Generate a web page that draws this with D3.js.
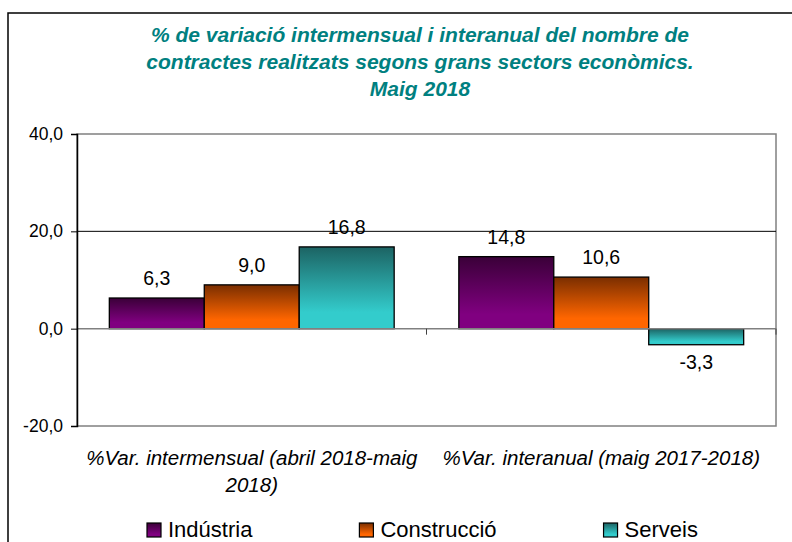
<!DOCTYPE html>
<meta charset="utf-8">
<style>
  body { margin: 0; background: #fff; }
  svg { display: block; font-family: "Liberation Sans", Arial, sans-serif; }
  .title { fill: #008080; font-size: 21px; font-weight: bold; font-style: italic; }
  .axis--y text { font-size: 17.5px; fill: #000; }
  .cat text { font-size: 20.5px; font-style: italic; fill: #000; }
  .label { font-size: 19.5px; fill: #000; }
  .legend text { font-size: 22px; fill: #000; }
</style>
<svg width="792" height="542"></svg>
<script src="https://cdn.jsdelivr.net/npm/d3@7"></script>
<script>
  // data
  var titleLines = ["% de variació intermensual i interanual del nombre de",
    "contractes realitzats segons grans sectors econòmics.",
    "Maig 2018"];
  var categories = ["intermensual", "interanual"];
  var categoryLabels = [["%Var. intermensual (abril 2018-maig", "2018)"],
    ["%Var. interanual (maig 2017-2018)"]];
  var sectors = ["Indústria", "Construcció", "Serveis"];
  var industria = [6.3, 14.8];
  var construccio = [9.0, 10.6];
  var serveis = [16.8, -3.3];
  var yTicks = [-20, 0, 20, 40];

  var colors = {
    "Indústria": ["#3a0038", "#800080"],
    "Construcció": ["#7a2e00", "#ff6600"],
    "Serveis": ["#1c6363", "#33cccc"]
  };

  var series = [industria, construccio, serveis];
  var rows = [];
  categories.forEach(function(c, i) {
    sectors.forEach(function(s, j) {
      rows.push({ cat: c, sector: s, value: series[j][i] });
    });
  });

  var svg = d3.select("svg");
  // catalan decimal comma, plain hyphen for negatives
  var fmt = function(v) { return v.toFixed(1).replace(".", ","); };

  // gradients
  var defs = svg.append("defs");
  sectors.forEach(function(s, i) {
    var gr = defs.append("linearGradient")
      .attr("id", "grad" + i)
      .attr("x1", 0).attr("y1", 0).attr("x2", 0).attr("y2", 1);
    gr.append("stop").attr("offset", "0%").attr("stop-color", colors[s][0]);
    gr.append("stop").attr("offset", "80%").attr("stop-color", colors[s][1]);
    gr.append("stop").attr("offset", "100%").attr("stop-color", colors[s][1]);
  });

  // outer frame
  svg.append("rect")
    .attr("x", 8).attr("y", 13)
    .attr("width", 800).attr("height", 560)
    .attr("fill", "#fff")
    .attr("stroke", "#000")
    .attr("stroke-width", 1.5);

  svg.append("g").selectAll("text")
    .data(titleLines)
    .enter().append("text")
    .attr("class", "title")
    .attr("x", 420)
    .attr("y", function(d, i) { return 42 + i * 27; })
    .attr("text-anchor", "middle")
    .text(function(d) { return d; });

  var plotLeft = 77, plotRight = 776, plotTop = 134, plotBottom = 426;

  var y = d3.scaleLinear()
    .domain([-20, 40])
    .range([plotBottom, plotTop]);

  var x0 = d3.scaleBand()
    .domain(categories)
    .range([plotLeft, plotRight])
    .paddingInner(0.185)
    .paddingOuter(0.0925);

  var x1 = d3.scaleBand()
    .domain(sectors)
    .range([0, x0.bandwidth()]);

  // plot area
  svg.append("rect")
    .attr("x", plotLeft).attr("y", plotTop)
    .attr("width", plotRight - plotLeft).attr("height", plotBottom - plotTop)
    .attr("fill", "#fff")
    .attr("stroke", "#808080")
    .attr("stroke-width", 1.5);

  // gridlines
  svg.append("g").selectAll("line")
    .data(yTicks.filter(function(t) { return t > 0 && t < 40; }))
    .enter().append("line")
    .attr("x1", plotLeft).attr("x2", plotRight)
    .attr("y1", function(d) { return y(d); })
    .attr("y2", function(d) { return y(d); })
    .attr("stroke", "#000")
    .attr("stroke-width", 1);

  // bars
  svg.append("g").selectAll("rect")
    .data(rows)
    .enter().append("rect")
    .attr("x", function(d) { return x0(d.cat) + x1(d.sector); })
    .attr("y", function(d) { return y(Math.max(0, d.value)); })
    .attr("width", x1.bandwidth())
    .attr("height", function(d) { return Math.abs(y(d.value) - y(0)); })
    .attr("fill", function(d) { return "url(#grad" + sectors.indexOf(d.sector) + ")"; })
    .attr("stroke", "#000")
    .attr("stroke-width", 1.3);

  // category axis at zero
  var xAxisG = svg.append("g");
  xAxisG.append("line")
    .attr("x1", plotLeft).attr("x2", plotRight)
    .attr("y1", y(0)).attr("y2", y(0))
    .attr("stroke", "#808080").attr("stroke-width", 1.5);
  xAxisG.selectAll(".sep")
    .data([categories[1]])
    .enter().append("line")
    .attr("x1", function(d) { return x0(d) - x0.step() * x0.paddingInner() / 2; })
    .attr("x2", function(d) { return x0(d) - x0.step() * x0.paddingInner() / 2; })
    .attr("y1", y(0)).attr("y2", y(0) + 6)
    .attr("stroke", "#404040").attr("stroke-width", 1);
  xAxisG.append("line")
    .attr("x1", plotRight).attr("x2", plotRight)
    .attr("y1", y(0)).attr("y2", y(0) + 6)
    .attr("stroke", "#404040").attr("stroke-width", 1);

  // y axis
  var yAxis = svg.append("g")
    .attr("class", "axis axis--y")
    .attr("transform", "translate(" + plotLeft + ",0)")
    .call(d3.axisLeft(y).tickValues(yTicks).tickSize(6).tickPadding(8).tickFormat(fmt));
  yAxis.attr("font-family", null).attr("font-size", null);
  yAxis.select(".domain").attr("stroke", "#000").attr("stroke-width", 1.5);
  yAxis.selectAll(".tick line").attr("stroke", "#000");

  // data labels
  svg.append("g").selectAll("text")
    .data(rows)
    .enter().append("text")
    .attr("class", "label")
    .attr("text-anchor", "middle")
    .attr("x", function(d) { return x0(d.cat) + x1(d.sector) + x1.bandwidth() / 2; })
    .attr("y", function(d) { return d.value >= 0 ? y(d.value) - 13 : y(d.value) + 24; })
    .text(function(d) { return fmt(d.value); });

  // category labels
  var cat = svg.append("g").attr("class", "cat");
  categories.forEach(function(c, i) {
    cat.selectAll(".l" + i)
      .data(categoryLabels[i])
      .enter().append("text")
      .attr("text-anchor", "middle")
      .attr("x", x0(c) + x0.bandwidth() / 2)
      .attr("y", function(d, k) { return 465 + k * 27; })
      .text(function(d) { return d; });
  });

  // legend
  var legend = svg.append("g").attr("class", "legend");
  var lx = 147;
  sectors.forEach(function(s, i) {
    var g = legend.append("g").attr("transform", "translate(" + lx + ",523)");
    g.append("rect")
      .attr("width", 14).attr("height", 14)
      .attr("fill", "url(#grad" + i + ")")
      .attr("stroke", "#000").attr("stroke-width", 1.2);
    var t = g.append("text")
      .attr("x", 21).attr("y", 14)
      .text(s);
    lx += 21 + t.node().getComputedTextLength() + 107;
  });
</script>
